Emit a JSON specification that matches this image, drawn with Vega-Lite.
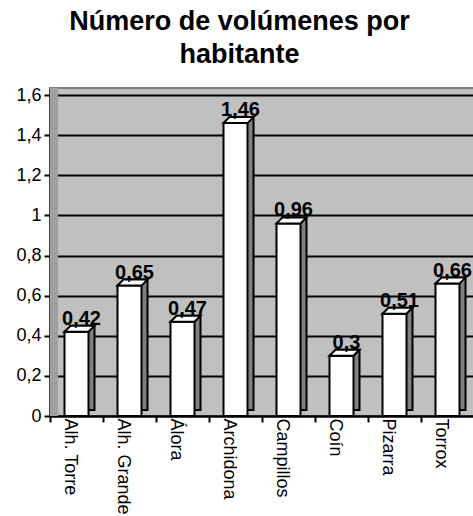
{
  "$schema": "https://vega.github.io/schema/vega-lite/v6.json",
  "width": 424,
  "height": 328,
  "autosize": {"type": "none"},
  "padding": {"left": 50, "top": 88, "right": 0, "bottom": 100},
  "background": "white",
  "config": {
    "locale": {"number": {"decimal": ",", "thousands": ".", "grouping": [3], "currency": ["", " €"]}},
    "font": "Liberation Sans",
    "view": {"fill": "#c0c0c0", "stroke": "#808080", "strokeWidth": 2}
  },
  "title": {
    "text": ["Número de volúmenes por", "habitante"],
    "fontSize": 27,
    "fontWeight": "bold",
    "font": "Liberation Sans",
    "color": "black",
    "anchor": "middle",
    "frame": "bounds",
    "offset": 15,
    "dx": -6,
    "lineHeight": 33
  },
  "data": {
    "values": [
      {"municipio": "Alh. Torre", "valor": 0.42},
      {"municipio": "Alh. Grande", "valor": 0.65},
      {"municipio": "Álora", "valor": 0.47},
      {"municipio": "Archidona", "valor": 1.46},
      {"municipio": "Campillos", "valor": 0.96},
      {"municipio": "Coín", "valor": 0.3},
      {"municipio": "Pizarra", "valor": 0.51},
      {"municipio": "Torrox", "valor": 0.66}
    ]
  },
  "encoding": {
    "x": {
      "field": "municipio",
      "type": "nominal",
      "sort": null,
      "scale": {"paddingInner": 0, "paddingOuter": 0},
      "axis": {
        "title": null,
        "labelAngle": 90,
        "labelAlign": "left",
        "labelBaseline": "middle",
        "labelFontSize": 18,
        "labelColor": "black",
        "labelPadding": -4,
        "labelOffset": -7,
        "tickBand": "extent",
        "tickSize": 6,
        "tickWidth": 2,
        "tickColor": "black",
        "domainColor": "black",
        "domainWidth": 2,
        "grid": false
      }
    },
    "y": {
      "field": "valor",
      "type": "quantitative",
      "scale": {"domain": [0, 1.635], "nice": false, "zero": true},
      "axis": {
        "title": null,
        "values": [0, 0.2, 0.4, 0.6, 0.8, 1, 1.2, 1.4, 1.6],
        "format": "~g",
        "labelFontSize": 18,
        "labelColor": "black",
        "labelPadding": 3,
        "tickSize": 6,
        "tickWidth": 2,
        "tickColor": "black",
        "domainColor": "black",
        "domainWidth": 2,
        "grid": true,
        "gridColor": "black",
        "gridWidth": 2,
        "gridOpacity": 1
      }
    }
  },
  "layer": [
    {
      "mark": {"type": "rule", "color": "#a0a0a0", "strokeWidth": 8, "xOffset": 4},
      "encoding": {
        "x": {"datum": "Alh. Torre", "bandPosition": 0},
        "y": {"datum": 0},
        "y2": {"datum": 1.635}
      }
    },
    {
      "mark": {"type": "bar", "width": 24, "xOffset": 6, "yOffset": -6, "fill": "#808080", "stroke": "black", "strokeWidth": 2}
    },
    {
      "mark": {"type": "bar", "width": 24, "fill": "white", "stroke": "black", "strokeWidth": 2}
    },
    {
      "mark": {"type": "point", "shape": "M-1,0L1,0L1.5,-0.5L-0.5,-0.5Z", "size": 576, "filled": true, "fill": "white", "stroke": "black", "strokeWidth": 2, "opacity": 1}
    },
    {
      "mark": {"type": "text", "fontSize": 20, "fontWeight": "bold", "color": "black", "dx": 5, "dy": -7, "baseline": "alphabetic", "align": "center"},
      "encoding": {"text": {"field": "valor", "type": "quantitative", "format": "~g"}}
    }
  ]
}
